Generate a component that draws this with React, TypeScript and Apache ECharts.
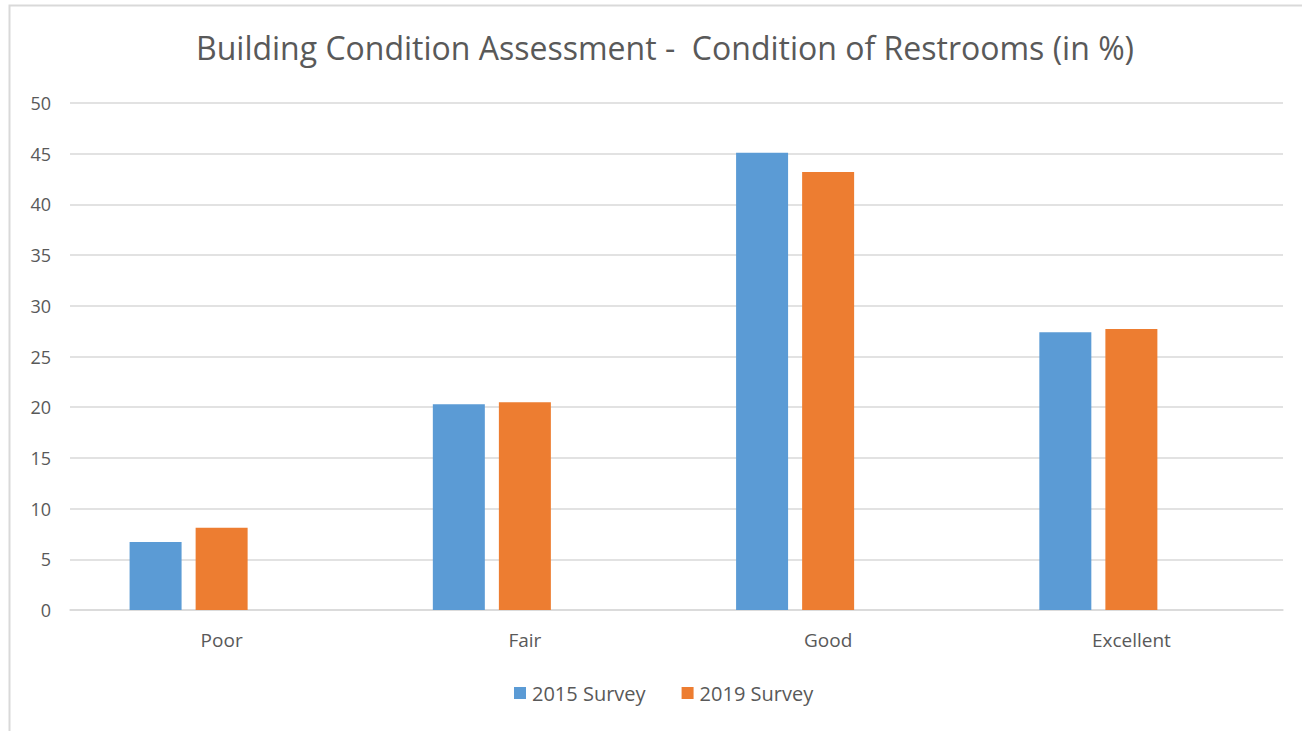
import React, { useEffect, useRef } from "react";
import * as echarts from "echarts";

const categories = ["Poor", "Fair", "Good", "Excellent"];
const survey2015 = [6.7, 20.3, 45.1, 27.4];
const survey2019 = [8.1, 20.5, 43.2, 27.7];
const emptySeries = [null, null, null, null];

const FONT = "'Open Sans', 'Noto Sans', sans-serif";
const TEXT = "#595959";

export default function App() {
  const ref = useRef<HTMLDivElement>(null);
  useEffect(() => {
    if (!ref.current) return;
    const chart = echarts.init(ref.current, null, { renderer: "svg" });
    chart.setOption({
      animation: false,
      backgroundColor: "#ffffff",
      title: {
        text: "Building Condition Assessment -  Condition of Restrooms (in %)",
        left: 660,
        textAlign: "center",
        top: 26,
        textStyle: { fontFamily: FONT, fontSize: 32, fontWeight: "normal", color: TEXT },
      },
      graphic: [
        {
          type: "rect",
          shape: { x: 9.5, y: 5.5, width: 1300, height: 740 },
          style: { fill: "none", stroke: "#D9D9D9", lineWidth: 2 },
          silent: true,
        },
      ],
      legend: {
        data: ["2015 Survey", "2019 Survey"],
        left: 509,
        top: 678,
        itemWidth: 12,
        itemHeight: 12,
        itemGap: 36,
        icon: "rect",
        textStyle: { fontFamily: FONT, fontSize: 20, color: TEXT, padding: [0, 0, 0, 1] },
      },
      grid: { left: 70, right: 19, top: 103, bottom: 121, containLabel: false },
      xAxis: {
        type: "category",
        data: categories,
        axisLine: { show: true, lineStyle: { color: "#D9D9D9", width: 1.5 } },
        axisTick: { show: false },
        axisLabel: { fontFamily: FONT, fontSize: 19, color: TEXT, margin: 20 },
      },
      yAxis: {
        type: "value",
        min: 0,
        max: 50,
        interval: 5,
        axisLine: { show: false },
        axisTick: { show: false },
        splitLine: { lineStyle: { color: "#D9D9D9", width: 1.5 } },
        axisLabel: { fontFamily: FONT, fontSize: 18, color: TEXT, margin: 19 },
      },
      series: [
        {
          name: "2015 Survey",
          type: "bar",
          data: survey2015,
          barWidth: 52,
          barGap: "27%",
          itemStyle: { color: "#5B9BD5" },
        },
        {
          name: "2019 Survey",
          type: "bar",
          data: survey2019,
          barWidth: 52,
          barGap: "27%",
          itemStyle: { color: "#ED7D31" },
        },
        {
          name: "hidden",
          type: "bar",
          data: emptySeries,
          barWidth: 52,
          barGap: "27%",
          itemStyle: { color: "#A5A5A5" },
        },
      ],
    });
    return () => chart.dispose();
  }, []);
  return (
    <div
      ref={ref}
      style={{ position: "fixed", left: 0, top: 0, width: 1302, height: 731 }}
    />
  );
}
